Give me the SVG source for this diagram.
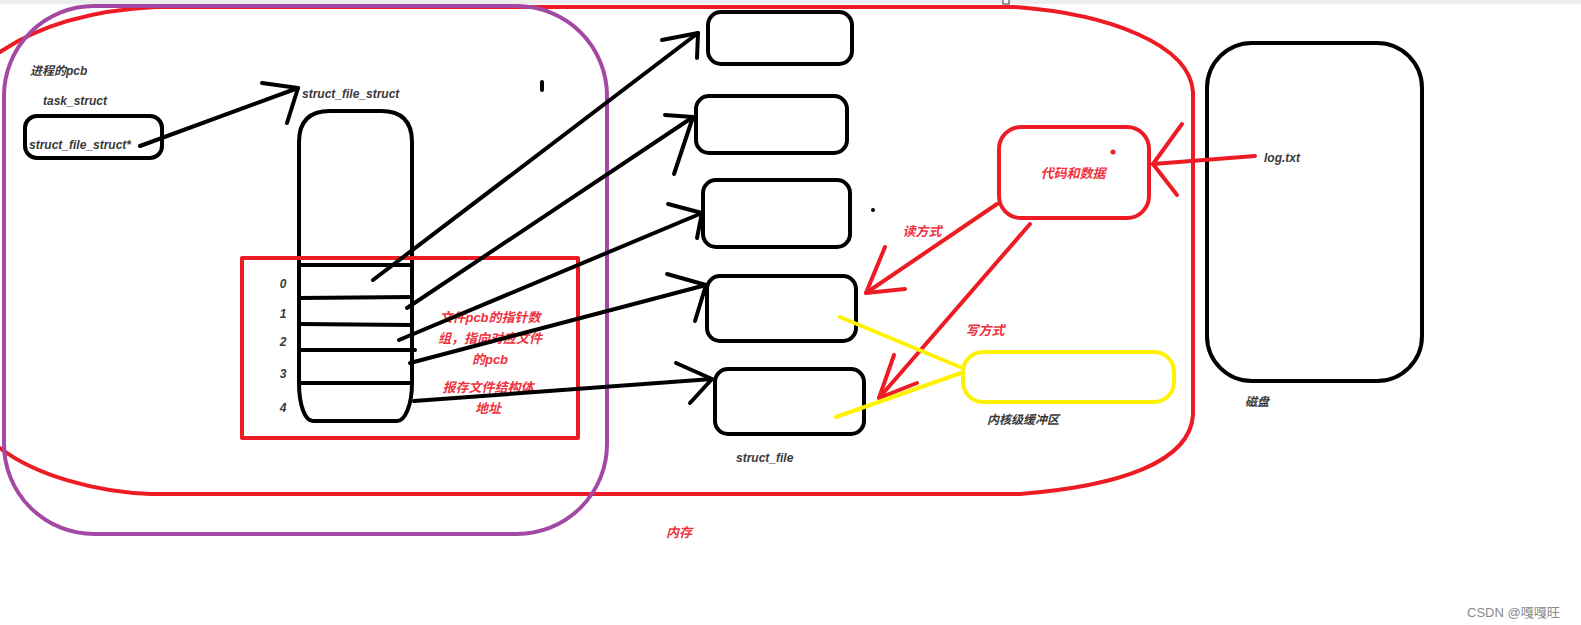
<svg xmlns="http://www.w3.org/2000/svg" width="1581" height="625" viewBox="0 0 1581 625">
<style>
.blk{fill:none;stroke:#000;stroke-width:4;stroke-linecap:round;stroke-linejoin:round}
.red{fill:none;stroke:#ed1c24;stroke-width:4;stroke-linecap:round;stroke-linejoin:round}
.pur{fill:none;stroke:#a349a4;stroke-width:4}
.yel{fill:none;stroke:#fff200;stroke-width:4;stroke-linecap:round}
.t{font-family:"Liberation Sans","Noto Sans CJK SC",sans-serif;font-size:12px;font-weight:bold;font-style:italic;fill:#3a3a3a}
.tr{font-family:"Liberation Sans","Noto Sans CJK SC",sans-serif;font-size:13px;font-weight:bold;font-style:italic;fill:#ef3340}
.c{text-anchor:middle}
</style>
<rect width="1581" height="625" fill="#fff"/>
<rect x="0" y="0" width="1581" height="4" fill="#eeeeee"/>
<rect x="1003" y="-1" width="6" height="5" fill="#fff" stroke="#333" stroke-width="1"/>

<g id="memory">
<path class="red" d="M0,52 C40,25 95,10 156,7 L1015,7 C1110,14 1190,45 1193,92 L1193,415 C1190,462 1120,486 1020,494 L151,494 C95,492 35,475 0,448"/>
<text class="tr" x="666" y="537">内存</text>
</g>

<g id="pcb">
<rect class="pur" x="4" y="6" width="603" height="528" rx="90" ry="90"/>
<text class="t" x="30" y="75">进程的pcb</text>
<text class="t" x="43" y="105">task_struct</text>
</g>

<g id="fileptr">
<rect class="blk" x="25" y="116" width="137" height="42" rx="12"/>
<text class="t" x="29" y="149">struct_file_struct*</text>
</g>

<g id="fdtable">
<text class="t" x="302" y="98">struct_file_struct</text>
<path class="blk" d="M299,383 L299,142 Q299,111 330,111 L381,111 Q412,111 412,142 L412,383 C412,405 405,421 397,421 L313,421 C305,421 299,405 299,383 Z"/>
<line class="blk" x1="299" y1="265" x2="410" y2="265"/>
<line class="blk" x1="299" y1="298" x2="412" y2="297"/>
<line class="blk" x1="299" y1="324" x2="411" y2="325"/>
<line class="blk" x1="299" y1="350" x2="415" y2="350"/>
<line class="blk" x1="300" y1="383" x2="412" y2="383"/>
<text class="t c" x="283" y="288">0</text>
<text class="t c" x="283" y="318">1</text>
<text class="t c" x="283" y="346">2</text>
<text class="t c" x="283" y="378">3</text>
<text class="t c" x="283" y="412">4</text>
</g>

<g id="note">
<rect class="red" x="242" y="258" width="336" height="180"/>
<text class="tr c" x="490" y="322">文件pcb的指针数</text>
<text class="tr c" x="490" y="343">组，指向对应文件</text>
<text class="tr c" x="490" y="364">的pcb</text>
<text class="tr c" x="488" y="392">报存文件结构体</text>
<text class="tr c" x="488" y="413">地址</text>
</g>

<g id="struct_file">
<rect class="blk" x="708" y="12" width="144" height="52" rx="13"/>
<rect class="blk" x="696" y="96" width="151" height="57" rx="13"/>
<rect class="blk" x="703" y="180" width="147" height="67" rx="13"/>
<rect class="blk" x="707" y="276" width="149" height="65" rx="13"/>
<rect class="blk" x="715" y="369" width="149" height="65" rx="13"/>
<text class="t" x="736" y="462">struct_file</text>
<circle cx="873" cy="210" r="2" fill="#000"/>
<line class="blk" x1="542" y1="82" x2="542" y2="90" stroke-width="3"/>
</g>

<g id="code_data">
<rect class="red" x="999" y="127" width="150" height="91" rx="22"/>
<text class="tr c" x="1073" y="178">代码和数据</text>
<circle cx="1113" cy="152" r="2.5" fill="#ed1c24"/>
</g>

<g id="kernel_buffer">
<rect class="yel" x="963" y="352" width="211" height="50" rx="20"/>
<text class="t" x="987" y="424">内核级缓冲区</text>
</g>

<g id="disk">
<rect class="blk" x="1207" y="43" width="215" height="338" rx="45"/>
<text class="t" x="1264" y="162">log.txt</text>
<text class="t" x="1245" y="406">磁盘</text>
</g>

<g id="connectors">
<line class="blk" x1="140" y1="146" x2="298" y2="88"/>
<polyline class="blk" points="262,83 298,88 287,123"/>
<line class="blk" x1="373" y1="280" x2="698" y2="33"/>
<polyline class="blk" points="662,40 698,33 697,58"/>
<line class="blk" x1="407" y1="308" x2="693" y2="117"/>
<polyline class="blk" points="665,115 693,117 674,174"/>
<line class="blk" x1="399" y1="340" x2="702" y2="213"/>
<polyline class="blk" points="668,204 702,213 697,238"/>
<line class="blk" x1="410" y1="363" x2="706" y2="285"/>
<polyline class="blk" points="667,274 706,285 695,321"/>
<line class="blk" x1="414" y1="401" x2="712" y2="379"/>
<polyline class="blk" points="676,363 712,379 690,403"/>
<line class="red" x1="1255" y1="156" x2="1153" y2="164"/>
<polyline class="red" points="1182,124 1153,164 1177,195"/>
<line class="red" x1="997" y1="204" x2="866" y2="293"/>
<polyline class="red" points="885,247 866,293 905,289"/>
<text class="tr c" x="922" y="236">读方式</text>
<line class="red" x1="1030" y1="224" x2="879" y2="398"/>
<polyline class="red" points="894,355 879,398 917,383"/>
<text class="tr c" x="985" y="335">写方式</text>
<line class="yel" x1="840" y1="317" x2="960" y2="367"/>
<line class="yel" x1="961" y1="373" x2="836" y2="417"/>
</g>

<text x="1467" y="617" font-family="Liberation Sans,'Noto Sans CJK SC',sans-serif" font-size="13" fill="#8a8a8a">CSDN @嘎嘎旺</text>
</svg>
